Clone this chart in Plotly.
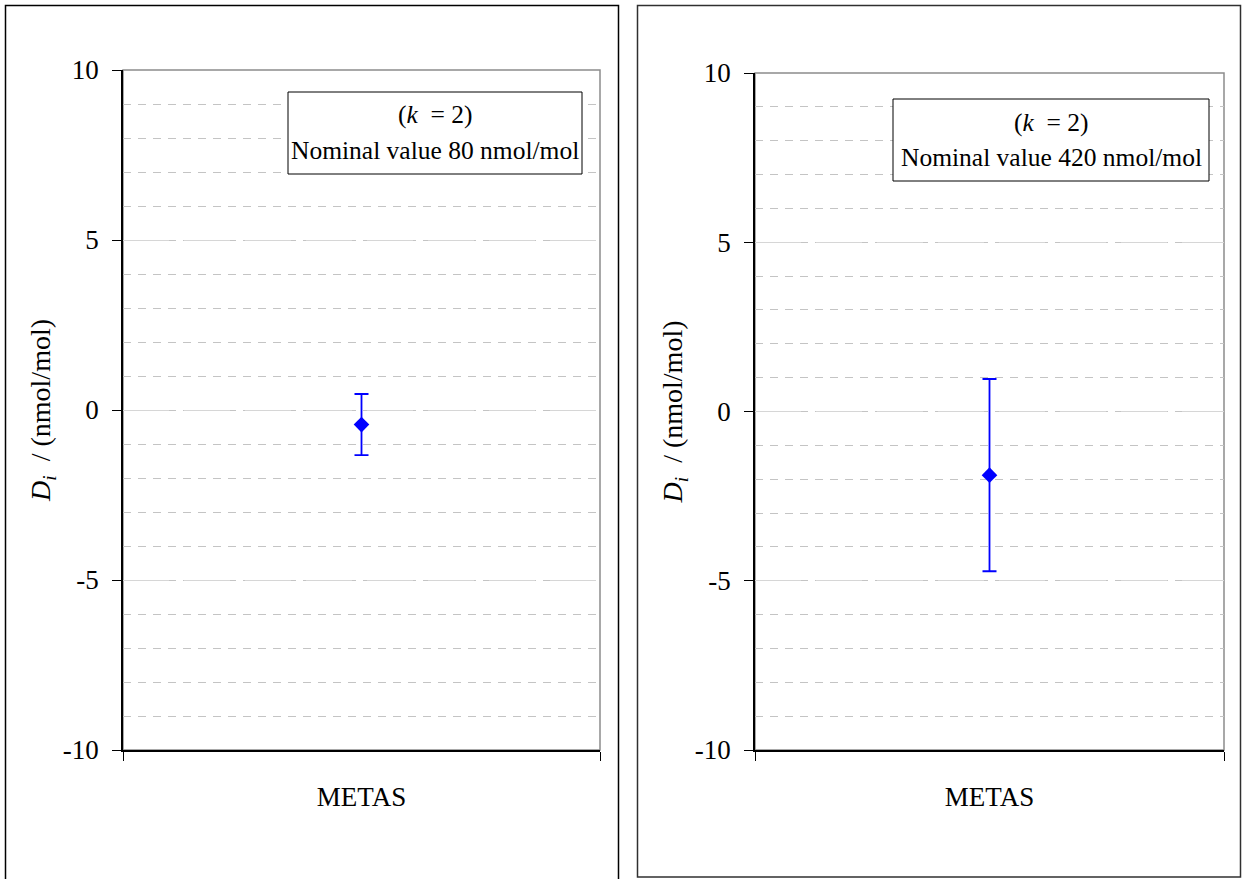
import plotly.graph_objects as go

W, H = 1242, 879

# ---- data ----
categories = ["METAS"]
left_values = [-0.43]
left_uncert = [0.90]
right_values = [-1.88]
right_uncert = [2.84]
y_tickvals = [-10, -5, 0, 5, 10]
y_ticktext = ["-10", "-5", "0", "5", "10"]
left_label = "Nominal value 80 nmol/mol"
right_label = "Nominal value 420 nmol/mol"
k_label = "(<i>k</i>&nbsp;&nbsp;= 2)"

FONT = "Liberation Serif, Times New Roman, serif"
BLUE = "#0000FF"

def px(x):
    return x / W

def py(y):
    return 1 - y / H

fig = go.Figure()

fig.add_trace(go.Scatter(
    x=categories, y=left_values, mode="markers",
    marker=dict(symbol="diamond", size=12, color=BLUE),
    error_y=dict(type="data", array=left_uncert, visible=True, color=BLUE, thickness=1.8, width=7),
    xaxis="x", yaxis="y", showlegend=False,
))
fig.add_trace(go.Scatter(
    x=categories, y=right_values, mode="markers",
    marker=dict(symbol="diamond", size=12, color=BLUE),
    error_y=dict(type="data", array=right_uncert, visible=True, color=BLUE, thickness=1.8, width=7),
    xaxis="x2", yaxis="y2", showlegend=False,
))

def yaxis_cfg(domain, anchor):
    return dict(
        domain=domain, anchor=anchor, range=[-10, 10], tickmode="array",
        tickvals=y_tickvals, ticktext=y_ticktext, automargin=False,
        ticks="outside", ticklen=9, tickcolor="black", tickwidth=1,
        ticklabelstandoff=8,
        showline=True, linecolor="black", linewidth=1.5,
        showgrid=True, gridcolor="#d6d6d6", gridwidth=1, griddash="46px,15px",
        minor=dict(tickmode="linear", tick0=0, dtick=1, showgrid=True,
                   gridcolor="#c4c4c4", gridwidth=1, griddash="8px,7px", ticks=""),
        zeroline=False,
        tickfont=dict(family=FONT, size=27, color="black"),
        title=dict(text="<i>D<sub>i</sub></i>&nbsp;&nbsp;/ (nmol/mol)", standoff=4,
                   font=dict(family=FONT, size=28, color="black")),
    )

def xaxis_cfg(domain, anchor):
    return dict(
        domain=domain, anchor=anchor, type="category", range=[-0.5, 0.5],
        categoryarray=categories, tickson="boundaries", automargin=False,
        ticks="outside", ticklen=9, tickcolor="black", tickwidth=1,
        ticklabelstandoff=22,
        showline=True, linecolor="black", linewidth=1.5,
        showgrid=False, zeroline=False,
        tickfont=dict(family=FONT, size=27, color="black"),
    )

fig.update_layout(
    width=W, height=H, autosize=False,
    margin=dict(l=0, r=0, t=0, b=0, pad=0, autoexpand=False),
    paper_bgcolor="white", plot_bgcolor="white",
    xaxis=xaxis_cfg([px(123), px(600)], "y"),
    yaxis=yaxis_cfg([py(750), py(70)], "x"),
    xaxis2=xaxis_cfg([px(755), px(1224)], "y2"),
    yaxis2=yaxis_cfg([py(750), py(73)], "x2"),
)

shapes = [
    # outer panel borders
    dict(type="rect", xref="paper", yref="paper", x0=px(5.5), x1=px(618.5), y0=-0.02, y1=py(5.5),
         line=dict(color="black", width=1.5), fillcolor="rgba(0,0,0,0)", layer="below"),
    dict(type="rect", xref="paper", yref="paper", x0=px(637.5), x1=px(1240.5), y0=py(877), y1=py(5.5),
         line=dict(color="#303030", width=1.5), fillcolor="rgba(0,0,0,0)", layer="below"),
    # plot area frames (gray top/right)
    dict(type="rect", xref="x domain", yref="y domain", x0=0, x1=1, y0=0, y1=1,
         line=dict(color="#8c8c8c", width=1.5), fillcolor="rgba(0,0,0,0)", layer="below"),
    dict(type="rect", xref="x2 domain", yref="y2 domain", x0=0, x1=1, y0=0, y1=1,
         line=dict(color="#8c8c8c", width=1.5), fillcolor="rgba(0,0,0,0)", layer="below"),
    # label boxes
    dict(type="rect", xref="paper", yref="paper", x0=px(288), x1=px(582), y0=py(174), y1=py(92),
         line=dict(color="black", width=1), fillcolor="white", layer="above"),
    dict(type="rect", xref="paper", yref="paper", x0=px(893), x1=px(1209), y0=py(181), y1=py(99),
         line=dict(color="black", width=1), fillcolor="white", layer="above"),
]
fig.update_layout(shapes=shapes)

ann_font = dict(family=FONT, size=25.5, color="black")
annotations = [
    dict(xref="paper", yref="paper", x=px(435), y=py(115), text=k_label, showarrow=False,
         xanchor="center", yanchor="middle", font=ann_font),
    dict(xref="paper", yref="paper", x=px(435), y=py(150), text=left_label, showarrow=False,
         xanchor="center", yanchor="middle", font=ann_font),
    dict(xref="paper", yref="paper", x=px(1051), y=py(122), text=k_label, showarrow=False,
         xanchor="center", yanchor="middle", font=ann_font),
    dict(xref="paper", yref="paper", x=px(1051), y=py(157), text=right_label, showarrow=False,
         xanchor="center", yanchor="middle", font=ann_font),
]
fig.update_layout(annotations=annotations)

fig.write_html("out.html", config={"displayModeBar": False},
               post_script="document.body.style.margin='0';document.body.style.overflow='hidden';")
